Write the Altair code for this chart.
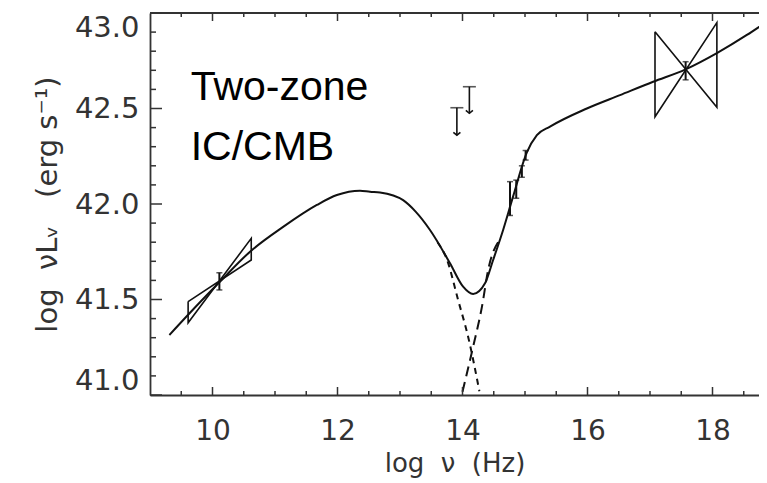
import altair as alt
import pandas as pd

# ---- data ----
curve_x = [9.31, 9.61, 10.11, 10.6, 11.13, 11.67, 11.99, 12.36, 12.52, 12.68, 13.05, 13.25,
           13.48, 13.8, 14.01, 14.17, 14.36, 14.49, 14.65, 14.81, 15.03, 15.19, 15.4, 15.99,
           16.52, 17.05, 17.57, 18.07, 18.55, 18.87]
curve_y = [41.314, 41.42, 41.59, 41.75, 41.88, 41.995, 42.047, 42.07, 42.064, 42.06, 42.02, 41.96,
           41.864, 41.69, 41.567, 41.529, 41.585, 41.707, 41.864, 42.04, 42.27, 42.36, 42.405, 42.5,
           42.57, 42.64, 42.705, 42.79, 42.885, 42.955]

sync_x = [13.6, 13.75, 13.93, 14.09, 14.27]
sync_y = [41.80, 41.71, 41.497, 41.305, 41.02]

ic_x = [14.0, 14.17, 14.31, 14.41, 14.6]
ic_y = [41.017, 41.253, 41.46, 41.654, 41.815]

radio_bow_x = [9.61, 10.62, 10.62, 9.61, 9.61]
radio_bow_y = [41.489, 41.707, 41.820, 41.378, 41.489]

xray_bow_x = [17.08, 18.07, 18.07, 17.08, 17.08]
xray_bow_y = [42.902, 42.506, 42.95, 42.457, 42.902]

err_x = [10.11, 14.76, 14.86, 14.95, 15.01, 17.57]
err_lo = [41.55, 41.94, 42.03, 42.14, 42.23, 42.65]
err_hi = [41.64, 42.117, 42.125, 42.20, 42.28, 42.745]

ul_x = [13.91, 14.11]
ul_top = [42.504, 42.614]
ul_tip = [42.36, 42.475]

x_major = [10, 12, 14, 16, 18]
x_minor = [9.5, 10.5, 11, 11.5, 12.5, 13, 13.5, 14.5, 15, 15.5, 16.5, 17, 17.5, 18.5]
y_major = [41.0, 41.5, 42.0, 42.5, 43.0]
y_minor = [41.1, 41.2, 41.3, 41.4, 41.6, 41.7, 41.8, 41.9, 42.1, 42.2, 42.3, 42.4,
           42.6, 42.7, 42.8, 42.9]

label_lines = ["Two-zone", "IC/CMB"]

NB = "\u00a0"
X_TITLE = "log" + NB + NB + "ν" + NB + NB + "(Hz)"
Y_TITLE = "log" + NB + NB + "νLᵥ" + NB + NB + NB + "(erg" + NB + "s⁻¹)"

W, H = 609, 382
XDOM = [9, 18.744]
YDOM = [41, 43]
INK = "#111"
AX = "#333"

xs = alt.Scale(domain=XDOM, nice=False, zero=False)
ys = alt.Scale(domain=YDOM, nice=False, zero=False)

xaxis = alt.Axis(values=x_major, format="d", ticks=False, domain=True, domainColor=AX,
                 domainWidth=1.8, grid=False,
                 labelFontSize=28, labelFont="DejaVu Sans", labelColor=AX, labelPadding=22,
                 title=X_TITLE, titleFont="DejaVu Sans", titleFontSize=26,
                 titleFontWeight="normal", titleColor=AX, titlePadding=5)
yaxis = alt.Axis(values=y_major, format=".1f", ticks=False, domain=True, domainColor=AX,
                 domainWidth=1.8, grid=False,
                 labelFontSize=29, labelFont="DejaVu Sans", labelColor=AX, labelPadding=11,
                 labelFlush=True,
                 title=Y_TITLE, titleFont="DejaVu Sans", titleFontSize=29,
                 titleFontWeight="normal", titleColor=AX, titlePadding=12)

curve_df = pd.DataFrame({"x": curve_x, "y": curve_y, "o": range(len(curve_x))})
base_curve = alt.Chart(curve_df).mark_line(color=INK, strokeWidth=2, interpolate="monotone",
                                           clip=True).encode(
    x=alt.X("x:Q", scale=xs, axis=xaxis),
    y=alt.Y("y:Q", scale=ys, axis=yaxis),
    order="o:Q",
)

sync = alt.Chart(pd.DataFrame({"x": sync_x, "y": sync_y})).mark_line(
    color=INK, strokeWidth=2, strokeDash=[6, 5], interpolate="monotone", clip=True).encode(
    x=alt.X("x:Q", scale=xs), y=alt.Y("y:Q", scale=ys))

ic = alt.Chart(pd.DataFrame({"x": ic_x, "y": ic_y})).mark_line(
    color=INK, strokeWidth=2, strokeDash=[10, 6], interpolate="monotone", clip=True).encode(
    x=alt.X("x:Q", scale=xs), y=alt.Y("y:Q", scale=ys))

def bowtie(bx, by):
    df = pd.DataFrame({"x": bx, "y": by, "o": range(len(bx))})
    return alt.Chart(df).mark_line(color=INK, strokeWidth=1.6, clip=True).encode(
        x=alt.X("x:Q", scale=xs), y=alt.Y("y:Q", scale=ys), order="o:Q")

radio = bowtie(radio_bow_x, radio_bow_y)
xray = bowtie(xray_bow_x, xray_bow_y)

err_df = pd.DataFrame({"x": err_x, "lo": err_lo, "hi": err_hi})
err_rule = alt.Chart(err_df).mark_rule(color=INK, strokeWidth=2).encode(
    x=alt.X("x:Q", scale=xs), y=alt.Y("lo:Q", scale=ys), y2="hi:Q")
err_cap_lo = alt.Chart(err_df).mark_tick(color=INK, orient="horizontal", size=6, thickness=1.5).encode(
    x=alt.X("x:Q", scale=xs), y=alt.Y("lo:Q", scale=ys))
err_cap_hi = alt.Chart(err_df).mark_tick(color=INK, orient="horizontal", size=6, thickness=1.5).encode(
    x=alt.X("x:Q", scale=xs), y=alt.Y("hi:Q", scale=ys))

ul_df = pd.DataFrame({"x": ul_x, "top": ul_top, "tip": ul_tip})
ul_rule = alt.Chart(ul_df).mark_rule(color=INK, strokeWidth=1.6).encode(
    x=alt.X("x:Q", scale=xs), y=alt.Y("top:Q", scale=ys), y2="tip:Q")
ul_cap = alt.Chart(ul_df).mark_tick(color=INK, orient="horizontal", size=13, thickness=1.6).encode(
    x=alt.X("x:Q", scale=xs), y=alt.Y("top:Q", scale=ys))
ul_head = alt.Chart(ul_df).mark_point(
    shape="M -1 -0.8 L 0 0 L 1 -0.8", filled=False, color=INK, strokeWidth=1.6, size=50, opacity=1
).encode(x=alt.X("x:Q", scale=xs), y=alt.Y("tip:Q", scale=ys))

# inward ticks (IDL style)
def xticks(vals, length):
    d = pd.DataFrame({"v": vals})
    bot = alt.Chart(d).mark_rule(color=AX, strokeWidth=1.5).encode(
        x=alt.X("v:Q", scale=xs), y=alt.value(H), y2=alt.value(H - length))
    top = alt.Chart(d).mark_rule(color=AX, strokeWidth=1.5).encode(
        x=alt.X("v:Q", scale=xs), y=alt.value(0), y2=alt.value(length))
    return [bot, top]

def yticks(vals, length):
    d = pd.DataFrame({"v": vals})
    left = alt.Chart(d).mark_rule(color=AX, strokeWidth=1.5).encode(
        y=alt.Y("v:Q", scale=ys), x=alt.value(0), x2=alt.value(length))
    return [left]

tick_layers = xticks(x_major, 8) + xticks(x_minor, 4) + yticks(y_major, 12) + yticks(y_minor, 6)

top_frame = alt.Chart(pd.DataFrame({"v": [YDOM[1]]})).mark_rule(color=AX, strokeWidth=1.8).encode(
    y=alt.Y("v:Q", scale=ys), x=alt.value(0), x2=alt.value(W))

label = alt.Chart(pd.DataFrame({"x": [9.65], "y": [42.545], "t": [label_lines]})).mark_text(
    align="left", baseline="alphabetic", fontSize=41, font="Liberation Sans",
    lineHeight=60, color="#000").encode(
    x=alt.X("x:Q", scale=xs), y=alt.Y("y:Q", scale=ys), text="t")

chart = alt.layer(
    base_curve, sync, ic, radio, xray, err_rule, err_cap_lo, err_cap_hi,
    ul_rule, ul_cap, ul_head, label, top_frame, *tick_layers
).properties(
    width=W, height=H,
    autosize=alt.AutoSizeParams(type="none"),
    padding={"left": 142, "top": 5, "right": 0, "bottom": 88},
).configure_view(stroke=None).configure(background="white")

chart.save("out.html", embed_options={"renderer": "svg", "actions": False})
